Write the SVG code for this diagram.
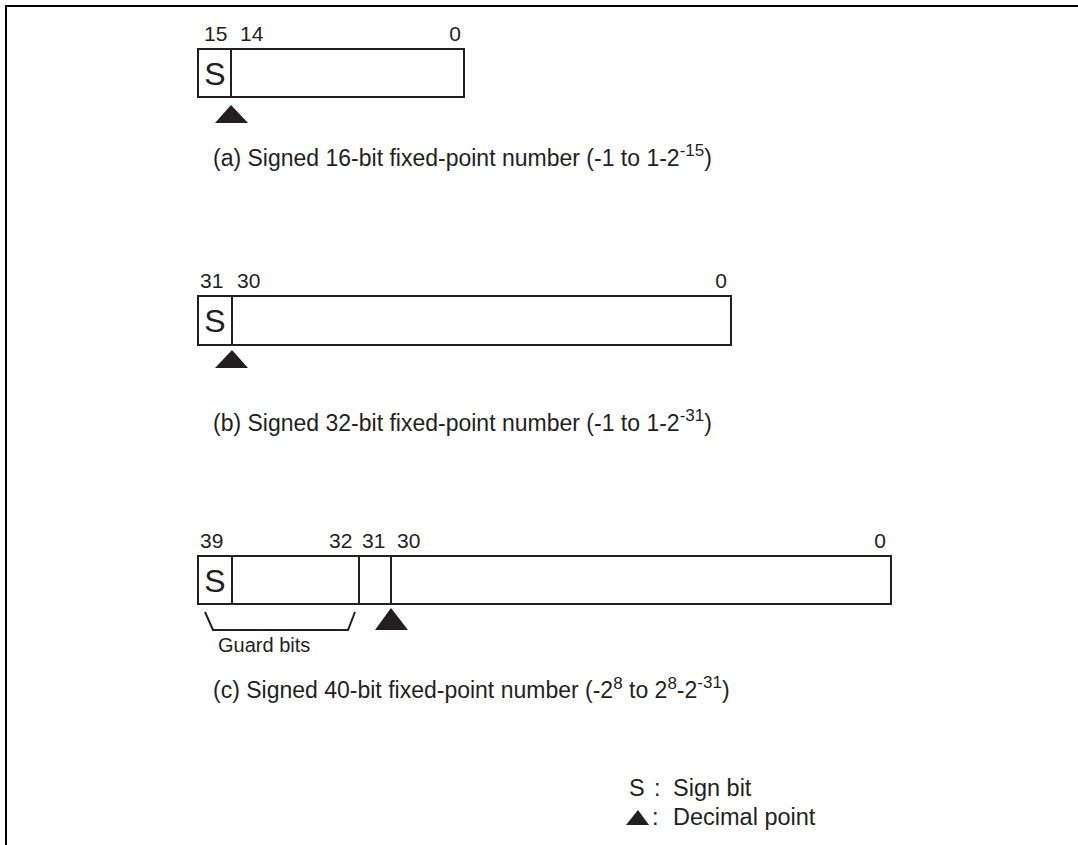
<svg xmlns="http://www.w3.org/2000/svg" width="1078" height="845" viewBox="0 0 1078 845">
<style>
text{font-family:"Liberation Sans",Arial,sans-serif;fill:#231f20;font-size:23px}
.box{fill:#fff;stroke:#231f20;stroke-width:2}
.ln{stroke:#231f20;stroke-width:2;fill:none}
.n{font-size:21px}
.g{font-size:20px}
.lg{font-size:23.5px}
.s{font-size:32px}
.sup{font-size:17px}
.tri{fill:#231f20}
</style>
<rect width="1078" height="845" fill="#fff"/>
<path d="M6,845 V6 H1078" fill="none" stroke="#000" stroke-width="2"/>
<g id="reg16">
<text class="n" x="204" y="41">15</text><text class="n" x="240" y="41">14</text><text class="n" x="461" y="41" text-anchor="end">0</text>
<rect class="box" x="198" y="49" width="266" height="48"/>
<line class="ln" x1="231" y1="49" x2="231" y2="97"/>
<text class="s" x="215" y="85" text-anchor="middle">S</text>
<polygon class="tri" points="231,105 248,123 215,123"/>
<text x="213" y="166">(a) Signed 16-bit fixed-point number (-1 to 1-2<tspan class="sup" dy="-10">-15</tspan><tspan dy="10">)</tspan></text>
</g>
<g id="reg32">
<text class="n" x="200" y="288">31</text><text class="n" x="237" y="288">30</text><text class="n" x="727" y="288" text-anchor="end">0</text>
<rect class="box" x="198" y="296" width="533" height="49"/>
<line class="ln" x1="232" y1="296" x2="232" y2="345"/>
<text class="s" x="215" y="332" text-anchor="middle">S</text>
<polygon class="tri" points="232,350 248,368 215,368"/>
<text x="213" y="431">(b) Signed 32-bit fixed-point number (-1 to 1-2<tspan class="sup" dy="-10">-31</tspan><tspan dy="10">)</tspan></text>
</g>
<g id="reg40">
<text class="n" x="200" y="548">39</text><text class="n" x="329" y="548">32</text><text class="n" x="362" y="548">31</text><text class="n" x="397" y="548">30</text><text class="n" x="886" y="548" text-anchor="end">0</text>
<rect class="box" x="198" y="556" width="693" height="48"/>
<line class="ln" x1="232" y1="556" x2="232" y2="604"/>
<line class="ln" x1="359" y1="556" x2="359" y2="604"/>
<line class="ln" x1="391" y1="556" x2="391" y2="604"/>
<text class="s" x="215" y="592" text-anchor="middle">S</text>
<polygon class="tri" points="391,608 408,630 375,630"/>
<polyline class="ln" points="205,612 213,630 348,630 355,612"/>
<text class="g" x="218" y="652">Guard bits</text>
<text x="213" y="698">(c) Signed 40-bit fixed-point number (-2<tspan class="sup" dy="-9">8</tspan><tspan dy="9"> to 2</tspan><tspan class="sup" dy="-9">8</tspan><tspan dy="9">-2</tspan><tspan class="sup" dy="-10">-31</tspan><tspan dy="10">)</tspan></text>
</g>
<g id="legend">
<text class="lg" x="629" y="796">S</text><text class="lg" x="654" y="796">:</text><text class="lg" x="673" y="796">Sign bit</text>
<polygon class="tri" points="638,810 649,825 626,825"/>
<text class="lg" x="652" y="825">:</text><text class="lg" x="673" y="825">Decimal point</text>
</g>
<g id="connectors"/>
</svg>
